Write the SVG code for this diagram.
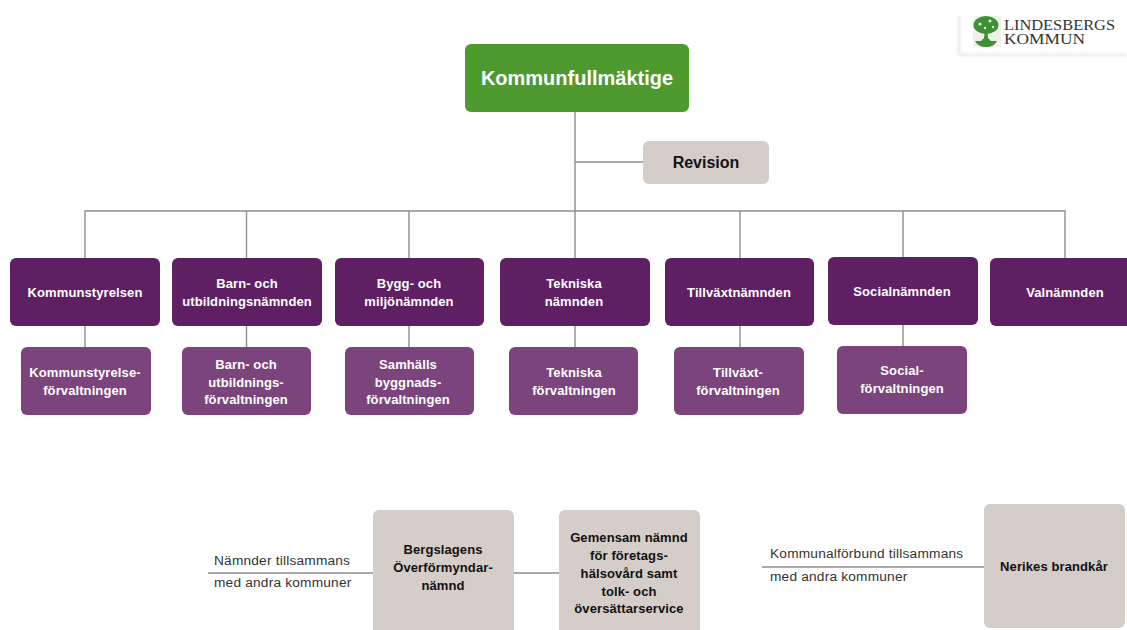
<svg xmlns="http://www.w3.org/2000/svg" width="1127" height="630" viewBox="0 0 1127 630">
<defs>
<filter id="sh" x="-10%" y="-10%" width="120%" height="130%"><feGaussianBlur stdDeviation="1.5"/></filter>
<style>
text{font-family:"Liberation Sans",Arial,sans-serif;text-anchor:middle}
.b{font-weight:700;font-size:13px;letter-spacing:.1px}
.w{fill:#fff}.k{fill:#111}
.n{fill:#5f1f63}.s{fill:#7c447c}.g{fill:#d4cdc8}
.l{font-size:13.700px;fill:#333;text-anchor:start;letter-spacing:.2px}
.c{stroke:#8e8e8e;stroke-width:1.4;fill:none}
.t{font-family:"Liberation Serif",serif;text-anchor:start;font-size:14px;fill:#333}
</style>
</defs>
<rect width="1127" height="630" fill="#fff"/>
<g id="logo">
<path d="M959 16V52Q959 55 962 55H1127" fill="none" stroke="#d8d8d8" stroke-width="1.6" filter="url(#sh)"/>
<rect x="973" y="16" width="28" height="31" fill="#eef2ea"/>
<ellipse cx="986" cy="25" rx="12.500" ry="9" fill="#3f8f35"/>
<circle cx="980" cy="24" r="1.500" fill="#eef2ea"/><circle cx="990" cy="21" r="1.500" fill="#eef2ea"/><circle cx="993" cy="27" r="1.200" fill="#eef2ea"/><circle cx="985" cy="28" r="1.200" fill="#eef2ea"/>
<path d="M985 30h2l1 8 3 3h6q-3 6-11 6t-11-6h6l3-3z" fill="#3f8f35"/>
<text class="t" x="1004" y="30" textLength="111" lengthAdjust="spacingAndGlyphs">LINDESBERGS</text>
<text class="t" x="1004" y="44" textLength="81" lengthAdjust="spacingAndGlyphs">KOMMUN</text>
</g>
<g id="connectors" class="c">
<path d="M575 111V210M575 162H643M85 259V211H1065V258M246.500 211V258M409 211V258M575 210V258M740 211V258M903 211V258"/>
<path d="M85 325V348M246.500 325V348M409 325V348M575 325V348M740 325V348M903 325V347"/>
<path d="M208 573H374M513 573H559M762 567H984"/>
</g>
<g id="kf"><rect x="465" y="44" width="224" height="68" rx="6" fill="#4f9a2f"/><text class="w" x="577" y="85" style="font-weight:700;font-size:20px">Kommunfullmäktige</text></g>
<g id="revision"><rect x="643" y="141" width="126" height="43" rx="6" class="g"/><text class="k" x="706" y="168" style="font-weight:700;font-size:16px">Revision</text></g>
<g id="n1"><rect x="10" y="258" width="150" height="68" rx="6" class="n"/><text class="b w" x="85" y="297">Kommunstyrelsen</text></g>
<g id="n2"><rect x="172" y="258" width="150" height="68" rx="6" class="n"/><text class="b w" x="247" y="288">Barn- och</text><text class="b w" x="247" y="306">utbildningsnämnden</text></g>
<g id="n3"><rect x="335" y="258" width="149" height="68" rx="6" class="n"/><text class="b w" x="409" y="288">Bygg- och</text><text class="b w" x="409" y="306">miljönämnden</text></g>
<g id="n4"><rect x="500" y="258" width="150" height="68" rx="6" class="n"/><text class="b w" x="574" y="288">Tekniska</text><text class="b w" x="574" y="306">nämnden</text></g>
<g id="n5"><rect x="665" y="258" width="149" height="68" rx="6" class="n"/><text class="b w" x="739" y="297">Tillväxtnämnden</text></g>
<g id="n6"><rect x="828" y="257" width="150" height="68" rx="6" class="n"/><text class="b w" x="902" y="296">Socialnämnden</text></g>
<g id="n7"><rect x="990" y="258" width="150" height="68" rx="6" class="n"/><text class="b w" x="1065" y="297">Valnämnden</text></g>
<g id="s1"><rect x="21" y="347" width="130" height="68" rx="6" class="s"/><text class="b w" x="85" y="377">Kommunstyrelse-</text><text class="b w" x="85" y="395">förvaltningen</text></g>
<g id="s2"><rect x="182" y="347" width="129" height="68" rx="6" class="s"/><text class="b w" x="246" y="369">Barn- och</text><text class="b w" x="246" y="387">utbildnings-</text><text class="b w" x="246" y="404">förvaltningen</text></g>
<g id="s3"><rect x="345" y="347" width="129" height="68" rx="6" class="s"/><text class="b w" x="408" y="369">Samhälls</text><text class="b w" x="408" y="387">byggnads-</text><text class="b w" x="408" y="404">förvaltningen</text></g>
<g id="s4"><rect x="509" y="347" width="129" height="68" rx="6" class="s"/><text class="b w" x="574" y="377">Tekniska</text><text class="b w" x="574" y="395">förvaltningen</text></g>
<g id="s5"><rect x="674" y="347" width="130" height="68" rx="6" class="s"/><text class="b w" x="738" y="377">Tillväxt-</text><text class="b w" x="738" y="395">förvaltningen</text></g>
<g id="s6"><rect x="837" y="346" width="130" height="68" rx="6" class="s"/><text class="b w" x="902" y="375">Social-</text><text class="b w" x="902" y="393">förvaltningen</text></g>
<g id="g1"><rect x="373" y="510" width="141" height="130" rx="6" class="g"/><text class="b k" x="443" y="554">Bergslagens</text><text class="b k" x="443" y="572">Överförmyndar-</text><text class="b k" x="443" y="590">nämnd</text></g>
<g id="g2"><rect x="559" y="510" width="141" height="130" rx="6" class="g"/><text class="b k" x="629" y="542">Gemensam nämnd</text><text class="b k" x="629" y="560">för företags-</text><text class="b k" x="629" y="578">hälsovård samt</text><text class="b k" x="629" y="596">tolk- och</text><text class="b k" x="629" y="613">översättarservice</text></g>
<g id="g3"><rect x="984" y="504" width="141" height="124" rx="6" class="g"/><text class="b k" x="1054" y="571">Nerikes brandkår</text></g>
<g id="labels">
<text class="l" x="214" y="565">Nämnder tillsammans</text>
<text class="l" x="214" y="587">med andra kommuner</text>
<text class="l" x="770" y="558">Kommunalförbund tillsammans</text>
<text class="l" x="770" y="581">med andra kommuner</text>
</g>
</svg>
